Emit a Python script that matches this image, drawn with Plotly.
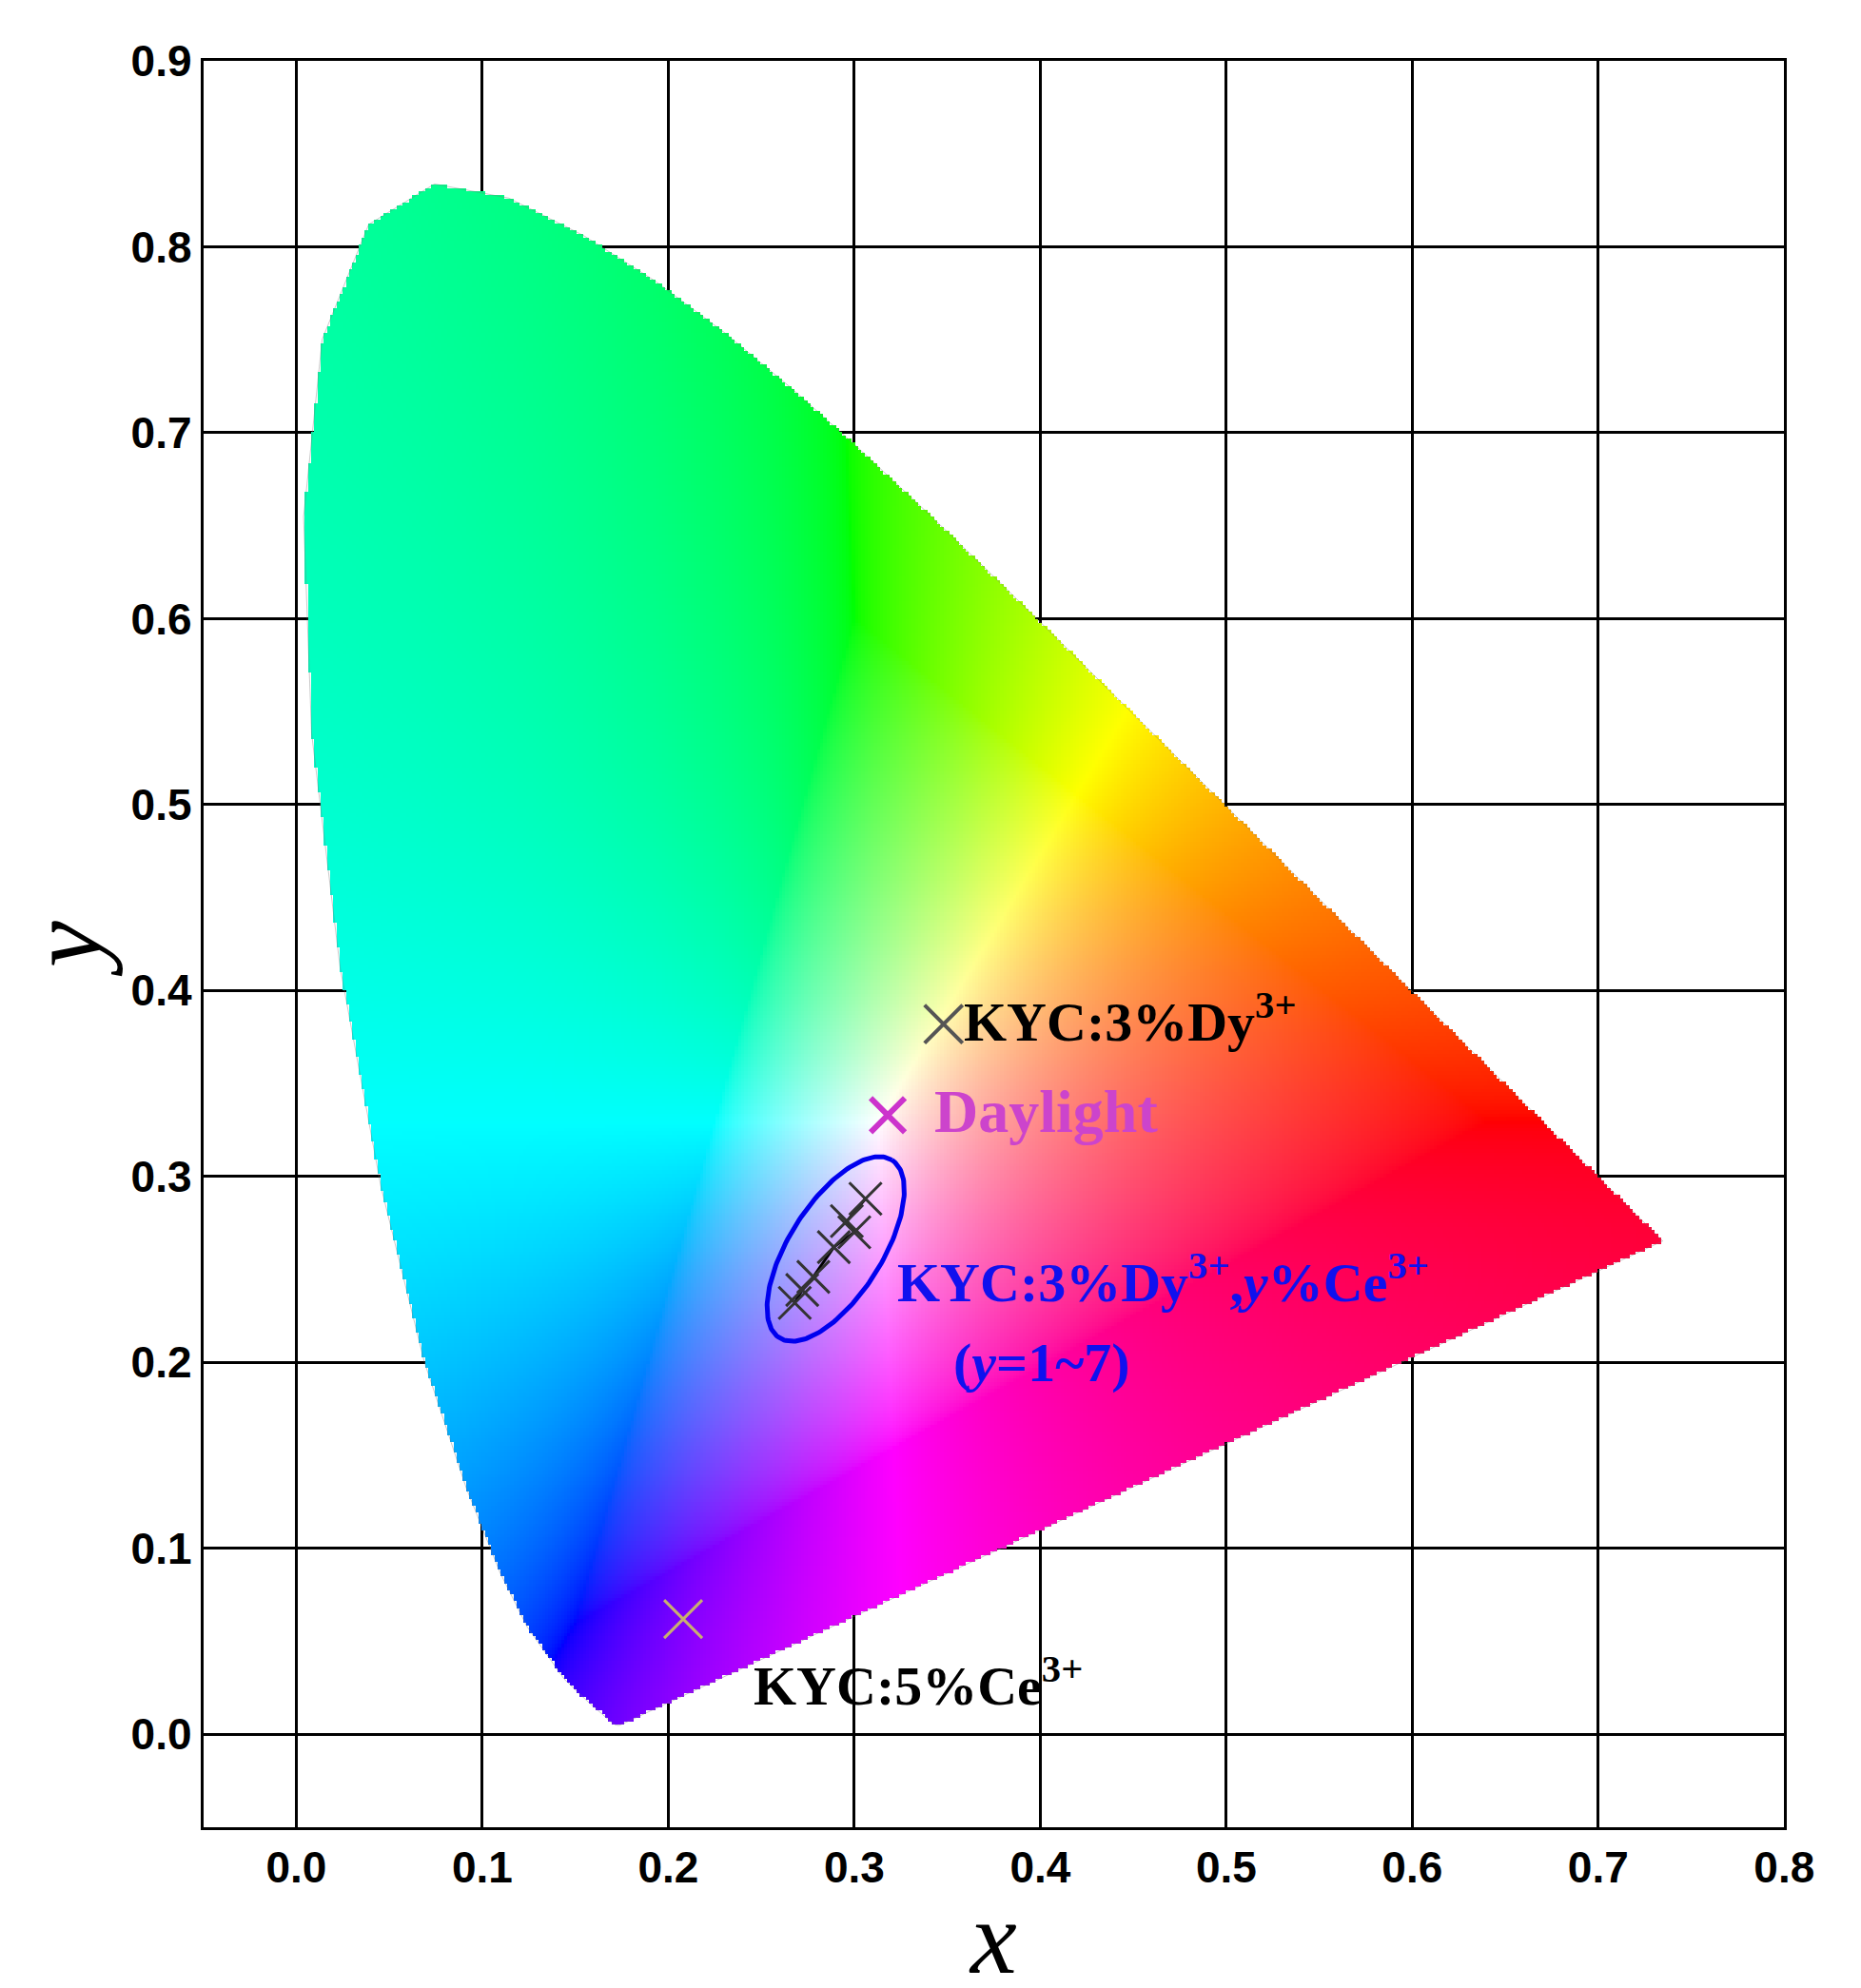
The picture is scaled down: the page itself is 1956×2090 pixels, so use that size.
import numpy as np
import plotly.graph_objects as go

# CIE 1931 spectral locus (x, y)
locus_x = [0.1741,0.1733,0.1714,0.1689,0.1644,0.1566,0.1440,0.1241,0.1096,0.0913,0.0687,0.0454,0.0235,0.0082,0.0039,0.0139,0.0389,0.0743,0.1142,0.1547,0.1929,0.2296,0.2658,0.3016,0.3373,0.3731,0.4087,0.4441,0.4788,0.5125,0.5448,0.5752,0.6029,0.6270,0.6658,0.6915,0.7079,0.7190,0.7260,0.7347]
locus_y = [0.0050,0.0048,0.0051,0.0069,0.0109,0.0177,0.0297,0.0578,0.0868,0.1327,0.2007,0.2950,0.4127,0.5384,0.6548,0.7502,0.8120,0.8338,0.8262,0.8059,0.7816,0.7543,0.7243,0.6923,0.6589,0.6245,0.5896,0.5547,0.5202,0.4866,0.4544,0.4242,0.3965,0.3725,0.3340,0.3083,0.2920,0.2809,0.2740,0.2653]

series_x = [0.306,0.296,0.300,0.289,0.278,0.272,0.268]
series_y = [0.288,0.276,0.270,0.262,0.246,0.239,0.232]
dy_pt = (0.348, 0.382)
daylight_pt = (0.318, 0.333)
ce_pt = (0.208, 0.062)
ellipse_c = (0.290, 0.261); ellipse_a = 0.057; ellipse_b = 0.025; ellipse_ang = 58

# build colour image
N = 500
x0, x1, y0, y1 = -0.05, 0.8, -0.05, 0.9
dx = (x1-x0)/N; dyy = (y1-y0)/N
gx = x0 + dx*(np.arange(N)+0.5); gy = y0 + dyy*(np.arange(N)+0.5)
X, Y = np.meshgrid(gx, gy)
px = np.array(locus_x+[locus_x[0]]); py = np.array(locus_y+[locus_y[0]])
inside = np.zeros(X.shape, bool)
for i in range(len(px)-1):
    xa, ya, xb, yb = px[i], py[i], px[i+1], py[i+1]
    cond = (ya > Y) != (yb > Y)
    xint = xa + (Y-ya)*(xb-xa)/(yb-ya+1e-12)
    inside ^= cond & (X < xint)
Ys = np.ones_like(X); Yc = np.where(Y > 1e-4, Y, 1e-4)
XX = X/Yc; ZZ = (1-X-Y)/Yc
M = np.array([[3.2406,-1.5372,-0.4986],[-0.9689,1.8758,0.0415],[0.0557,-0.2040,1.0570]])
rgb = np.stack([M[i,0]*XX+M[i,1]*Ys+M[i,2]*ZZ for i in range(3)], -1)
rgb = rgb - np.minimum(rgb.min(-1, keepdims=True), 0)
rgb = rgb/np.maximum(rgb.max(-1, keepdims=True), 1e-9)
rgb = np.clip(rgb, 0, 1)**(1/1.6)
img = np.zeros(X.shape+(4,), dtype=np.uint8)
img[..., :3] = (rgb*255).astype(np.uint8)
img[..., 3] = np.where(inside, 255, 0)

fig = go.Figure()
fig.add_trace(go.Image(z=img, colormodel="rgba256", x0=x0+dx/2, dx=dx, y0=y0+dyy/2, dy=dyy, hoverinfo="skip"))
fig.add_trace(go.Scatter(x=px, y=py, mode="lines", line=dict(color="rgba(120,120,120,0.4)", width=1)))

t = np.linspace(0, 2*np.pi, 200); a = np.deg2rad(ellipse_ang)
ex = ellipse_c[0] + ellipse_a*np.cos(t)*np.cos(a) - ellipse_b*np.sin(t)*np.sin(a)
ey = ellipse_c[1] + ellipse_a*np.cos(t)*np.sin(a)*0.99 + ellipse_b*np.sin(t)*np.cos(a)
fig.add_trace(go.Scatter(x=ex, y=ey, mode="lines", line=dict(color="#0000ee", width=5)))
fig.add_trace(go.Scatter(x=series_x, y=series_y, mode="lines+markers", line=dict(color="black", width=3),
                         marker=dict(symbol="x-thin", size=34, line=dict(color="#333", width=3))))
fig.add_trace(go.Scatter(x=[dy_pt[0]], y=[dy_pt[1]], mode="markers", marker=dict(symbol="x-thin", size=40, line=dict(color="#555", width=4))))
fig.add_trace(go.Scatter(x=[daylight_pt[0]], y=[daylight_pt[1]], mode="markers", marker=dict(symbol="x-thin", size=36, line=dict(color="#cc33cc", width=6))))
fig.add_trace(go.Scatter(x=[ce_pt[0]], y=[ce_pt[1]], mode="markers", marker=dict(symbol="x-thin", size=40, line=dict(color="#c8b070", width=3))))

F = "Liberation Serif"
def ann(x, y, txt, color, size=58):
    fig.add_annotation(x=x, y=y, text=txt, showarrow=False, xanchor="left", yanchor="middle",
                       font=dict(family=F, size=size, color=color))
ann(0.358, 0.385, "<b>KYC:3%Dy<sup>3+</sup></b>", "black")
ann(0.342, 0.335, "<b>Daylight</b>", "#cc44cc", 64)
ann(0.322, 0.245, "<b>KYC:3%Dy<sup>3+</sup>,<i>y</i>%Ce<sup>3+</sup></b>", "#1010ee")
ann(0.352, 0.200, "<b>(<i>y</i>=1~7)</b>", "#1010ee")
ann(0.245, 0.028, "<b>KYC:5%Ce<sup>3+</sup></b>", "black")

ax = dict(showgrid=True, gridcolor="black", gridwidth=3, zeroline=False, showline=True, linecolor="black",
          linewidth=3, mirror=True, ticks="", layer="below traces",
          tickfont=dict(family="Liberation Sans", size=46, color="black"))
fig.update_layout(width=1956, height=2090, plot_bgcolor="white", paper_bgcolor="white", showlegend=False,
                  margin=dict(l=197, r=80, t=56, b=177),
                  xaxis=dict(ax, range=[x0, x1], tickvals=[i/10 for i in range(9)], ticktext=["<b>%.1f</b>" % (i/10) for i in range(9)],
                             title=dict(text="<i>x</i>", font=dict(family=F, size=110, color="black"), standoff=0)),
                  yaxis=dict(ax, range=[y0, y1], tickvals=[i/10 for i in range(10)], ticktext=["<b>%.1f</b>" % (i/10) for i in range(10)],
                             title=dict(text="<i>y</i>", font=dict(family=F, size=110, color="black"), standoff=5), autorange=False))
fig.write_html("out.html")
